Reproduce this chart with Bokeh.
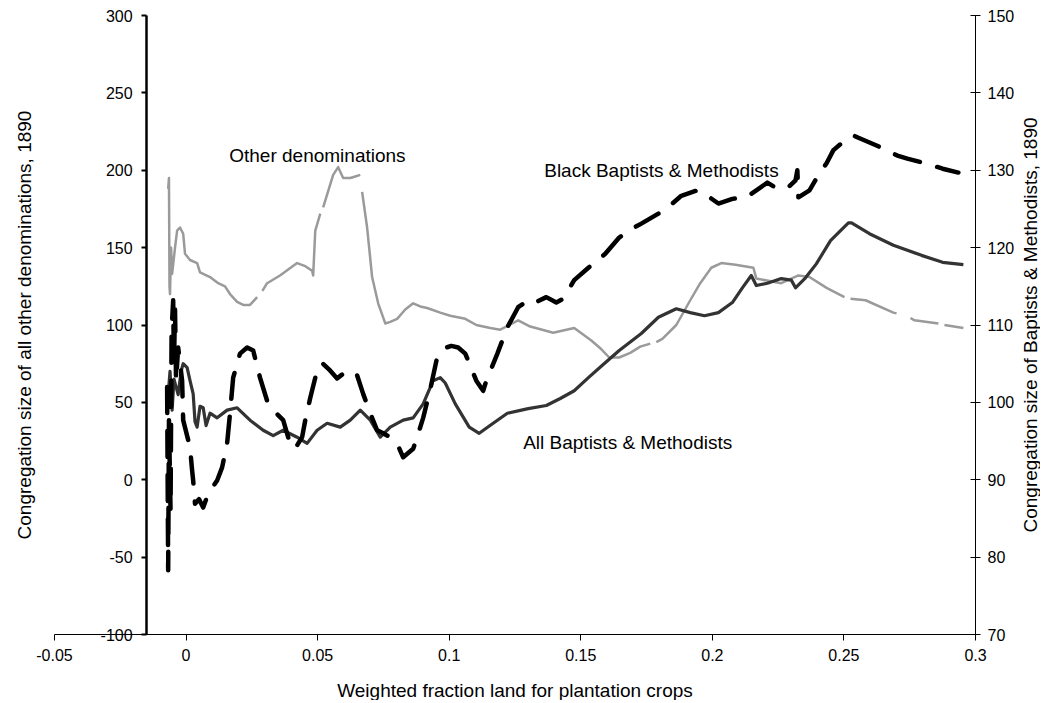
import math
import numpy as np
from bokeh.plotting import figure
from bokeh.models import Range1d, LinearAxis, FixedTicker, Label
from bokeh.embed import file_html
from bokeh.resources import INLINE

FONT = "Liberation Sans"
NaN = float("nan")

# ---------------- data ----------------
x_ticks = [-0.05, 0, 0.05, 0.1, 0.15, 0.2, 0.25, 0.3]
x_tick_labels = ["-0.05", "0", "0.05", "0.1", "0.15", "0.2", "0.25", "0.3"]
left_ticks = [-100, -50, 0, 50, 100, 150, 200, 250, 300]
left_tick_labels = ["-100", "-50", "0", "50", "100", "150", "200", "250", "300"]
right_ticks = [70, 80, 90, 100, 110, 120, 130, 140, 150]
right_tick_labels = ["70", "80", "90", "100", "110", "120", "130", "140", "150"]

# Other denominations (left axis); NaN = gap in the line
other_x = [-0.0068, -0.0065, -0.0063, -0.0061, -0.0057, -0.0053, -0.0042, -0.0034, -0.0023, -0.0011,
           -0.0004, 0.0015, 0.0042, 0.0053, 0.0091, 0.0122, 0.0148, 0.0167, 0.0194, 0.0217,
           0.0243, 0.0270, NaN, 0.0290, 0.0308, 0.0357, 0.0422, 0.0453, 0.0479, 0.0483,
           0.0491, 0.0510, NaN, 0.0521, 0.0559, 0.0578, 0.0597, 0.0624, 0.0643, 0.0662,
           NaN, 0.0669, 0.0688, 0.0707, 0.0730, 0.0757, 0.0776, 0.0802, 0.0833, 0.0863,
           0.0890, 0.0916, 0.0966, 0.1004, 0.1061, 0.1103, 0.1156, 0.1194, 0.1262, 0.1308,
           0.1395, 0.1475, 0.1540, 0.1574, 0.1608, 0.1646, 0.1688, 0.1726, 0.1764, NaN,
           0.1787, 0.1810, 0.1863, 0.1916, 0.1954, 0.1996, 0.2034, 0.2088, 0.2156, 0.2167,
           0.2262, 0.2327, 0.2369, 0.2434, 0.2502, NaN, 0.2525, 0.2582, 0.2688, 0.2700,
           NaN, 0.2753, 0.2768, 0.2859, NaN, 0.2882, 0.2954]
other_y = [188, 195, 125, 120, 150, 133, 150, 161, 163, 159,
           146, 142, 140, 134, 131, 127, 125, 120, 115, 113,
           113, 118, NaN, 122, 127, 132, 140, 138, 135, 132,
           161, 172, NaN, 176, 197, 202, 195, 195, 196, 197,
           NaN, 186, 163, 131, 114, 101, 102, 104, 110, 114,
           112, 111, 108, 106, 104, 100, 98, 97, 103, 99,
           95, 98, 90, 85, 79, 79, 82, 86, 88, NaN,
           89, 91, 100, 116, 127, 137, 140, 139, 137, 130,
           127, 132, 131, 124, 118, NaN, 117, 116, 108, 107.5,
           NaN, 104.5, 103, 101, NaN, 100, 98]

# Black Baptists & Methodists (right axis)
black_x = [-0.0072, -0.0068, -0.0065, -0.0059, -0.0055, -0.0049, -0.0046, -0.0042, -0.0038, -0.0030,
           -0.0015, -0.0011, 0.0015, 0.0023, 0.0027, 0.0034, 0.0049, 0.0065, 0.0084, 0.0118,
           0.0137, 0.0156, 0.0167, 0.0179, 0.0205, 0.0232, 0.0255, 0.0281, 0.0308, 0.0331,
           0.0369, 0.0395, 0.0414, 0.0441, 0.0453, 0.0472, 0.0491, 0.0517, 0.0548, 0.0574,
           0.0597, 0.0631, 0.0650, 0.0673, 0.0700, 0.0726, 0.0749, 0.0776, 0.0802, 0.0825,
           0.0863, 0.0878, 0.0901, 0.0928, 0.0954, 0.0981, 0.1008, 0.1034, 0.1061, 0.1103,
           0.1129, 0.1141, 0.1183, 0.1221, 0.1262, 0.1300, 0.1327, 0.1369, 0.1407, 0.1434,
           0.1475, 0.1529, 0.1593, 0.1646, 0.1703, 0.1730, 0.1795, 0.1848, 0.1882, 0.1943,
           0.1981, 0.2023, 0.2076, 0.2129, 0.2167, 0.2209, 0.2247, 0.2289, 0.2316, 0.2323,
           0.2327, 0.2369, 0.2407, 0.2434, 0.2460, 0.2502, 0.2536, 0.2555, 0.2624, 0.2703,
           0.2741, 0.2810, 0.2875, 0.2935]
black_y = [102.0, 78.3, 97.7, 86.0, 109.3, 113.2, 105.0, 112.0, 102.8, 107.1,
           102.8, 97.7, 94.2, 91.2, 89.9, 86.9, 87.5, 86.4, 88.2, 89.9,
           91.6, 94.7, 98.6, 103.2, 106.3, 107.1, 106.7, 103.2, 100.2, 99.0,
           97.7, 94.7, 94.0, 95.5, 97.7, 100.6, 103.2, 105.1, 104.1, 103.1,
           103.7, 104.1, 103.5, 101.1, 98.6, 96.4, 96.0, 95.5, 94.7, 92.9,
           94.0, 95.5, 98.0, 101.7, 105.8, 107.0, 107.3, 107.1, 106.3, 102.8,
           101.5, 102.8, 106.3, 109.7, 112.3, 113.2, 112.9, 113.6, 112.9, 113.4,
           115.8, 117.4, 119.2, 121.3, 122.6, 123.1, 124.4, 125.7, 126.7, 127.4,
           126.7, 125.7, 126.3, 126.5, 127.4, 128.4, 127.6, 127.8, 128.7, 130.0,
           126.5, 127.4, 129.6, 130.9, 132.6, 133.8, 134.5, 134.2, 133.2, 131.9,
           131.5, 130.9, 130.2, 129.7]

# All Baptists & Methodists (right axis)
all_x = [-0.0068, -0.0061, -0.0053, -0.0046, -0.0030, -0.0019, -0.0011, 0.0004, 0.0015, 0.0027,
         0.0034, 0.0042, 0.0053, 0.0065, 0.0076, 0.0091, 0.0118, 0.0156, 0.0194, 0.0243,
         0.0293, 0.0331, 0.0369, 0.0422, 0.0460, 0.0498, 0.0536, 0.0586, 0.0624, 0.0662,
         0.0700, 0.0738, 0.0776, 0.0825, 0.0863, 0.0901, 0.0939, 0.0966, 0.0985, 0.1023,
         0.1076, 0.1114, 0.1167, 0.1221, 0.1300, 0.1369, 0.1422, 0.1475, 0.1529, 0.1582,
         0.1646, 0.1730, 0.1795, 0.1863, 0.1916, 0.1970, 0.2023, 0.2076, 0.2114, 0.2148,
         0.2167, 0.2209, 0.2262, 0.2300, 0.2316, 0.2354, 0.2395, 0.2449, 0.2517, 0.2529,
         0.2597, 0.2688, 0.2795, 0.2875, 0.2954]
all_y = [101.0, 104.0, 99.0, 103.0, 101.0, 104.0, 105.0, 104.5, 102.8, 101.1,
         97.5, 96.8, 99.5, 99.3, 97.0, 98.6, 98.0, 99.0, 99.3, 97.7,
         96.4, 95.7, 96.4, 95.5, 94.7, 96.4, 97.3, 96.8, 97.7, 99.0,
         97.7, 95.5, 96.8, 97.7, 98.0, 99.8, 102.8, 103.2, 102.5, 99.8,
         96.8, 96.0, 97.3, 98.6, 99.2, 99.6, 100.5, 101.5, 103.2, 104.8,
         106.7, 108.9, 111.0, 112.1, 111.6, 111.2, 111.6, 112.9, 114.8, 116.4,
         115.1, 115.4, 116.0, 115.8, 114.8, 116.1, 117.9, 120.9, 123.2, 123.2,
         121.8, 120.3, 119.0, 118.1, 117.8]

labels_text = ["Other denominations", "Black Baptists & Methodists", "All Baptists & Methodists"]
labels_x = [0.0164, 0.1361, 0.1281]
labels_y = [209.5, 199.8, 24.1]

left_title = "Congregation size of all other denominations, 1890"
right_title = "Congregation size of Baptists & Methodists, 1890"
x_title = "Weighted fraction land for plantation crops"

x_lo, x_hi = -0.05, 0.3
yl_lo, yl_hi = -100, 300
yr_lo, yr_hi = 70, 150
left_axis_cross = -0.015

# ---------------- layout (pixels) ----------------
W, H = 1040, 700
PL, PR, PT, PB = 54, 975, 15, 634          # plot area edges on the canvas

sx = (PR - PL) / (x_hi - x_lo)
syl = (PB - PT) / (yl_hi - yl_lo)
syr = (PB - PT) / (yr_hi - yr_lo)

p = figure(width=W, height=H,
           x_range=Range1d(x_lo - PL / sx, x_hi + (W - PR) / sx),
           y_range=Range1d(yl_lo - (H - PB) / syl, yl_hi + PT / syl),
           x_axis_location=None, y_axis_location=None,
           output_backend="svg", toolbar_location=None, min_border=0)
p.extra_y_ranges = {"right": Range1d(yr_lo - (H - PB) / syr, yr_hi + PT / syr)}
p.xgrid.visible = False
p.ygrid.visible = False
p.outline_line_color = None
p.background_fill_color = "white"
p.border_fill_color = "white"


def style_labels(ax, size="16px"):
    ax.minor_tick_line_color = None
    ax.major_label_text_font = FONT
    ax.major_label_text_font_size = size
    ax.major_label_text_color = "black"


# x axis along y = -100
xa = LinearAxis(fixed_location=yl_lo, bounds=(x_lo, x_hi), ticker=FixedTicker(ticks=x_ticks))
xa.major_label_overrides = {t: s for t, s in zip(x_ticks, x_tick_labels)}
xa.axis_line_color = "black"
xa.axis_line_width = 1
xa.major_tick_line_color = "black"
xa.major_tick_out = 6
xa.major_tick_in = 0
xa.major_label_standoff = 8
style_labels(xa)
p.add_layout(xa, "below")

# left axis crossing the x axis inside the plot
la = LinearAxis(fixed_location=left_axis_cross, bounds=(yl_lo, yl_hi),
                ticker=FixedTicker(ticks=left_ticks))
la.major_label_overrides = {t: s for t, s in zip(left_ticks, left_tick_labels)}
la.axis_line_color = "black"
la.axis_line_width = 2.5
la.major_tick_line_color = "black"
la.major_tick_line_width = 2
la.major_tick_out = 5
la.major_tick_in = 0
la.major_label_standoff = 9
style_labels(la)
p.add_layout(la, "left")

# right axis at x = 0.3
ra = LinearAxis(y_range_name="right", fixed_location=x_hi, bounds=(yr_lo, yr_hi),
                ticker=FixedTicker(ticks=right_ticks))
ra.major_label_overrides = {t: s for t, s in zip(right_ticks, right_tick_labels)}
ra.axis_line_color = "black"
ra.axis_line_width = 1
ra.major_tick_line_color = "black"
ra.major_tick_out = 5
ra.major_tick_in = 5
ra.major_label_standoff = 7
style_labels(ra)
p.add_layout(ra, "right")

# axis titles
y_mid = (yl_lo + yl_hi) / 2
p.add_layout(Label(x=(x_lo + x_hi) / 2, y=yl_lo, y_offset=-56, text=x_title,
                   text_font=FONT, text_font_size="19px", text_color="black",
                   text_align="center", text_baseline="middle"))
p.add_layout(Label(x=x_lo, y=y_mid, x_offset=-30, text=left_title, angle=math.pi / 2,
                   text_font=FONT, text_font_size="19px", text_color="black",
                   text_align="center", text_baseline="middle"))
p.add_layout(Label(x=x_hi, y=y_mid, x_offset=55, text=right_title, angle=math.pi / 2,
                   text_font=FONT, text_font_size="19px", text_color="black",
                   text_align="center", text_baseline="middle"))

# series
p.line(np.array(other_x, dtype=float), np.array(other_y, dtype=float),
       line_color="#9a9a9a", line_width=2.5, line_join="round")
p.line(np.array(all_x, dtype=float), np.array(all_y, dtype=float), y_range_name="right",
       line_color="#333333", line_width=3.2, line_join="round")
p.line(np.array(black_x, dtype=float), np.array(black_y, dtype=float), y_range_name="right",
       line_color="black", line_width=4.5, line_join="round", line_cap="round",
       line_dash="26 18")

for t, lx, ly in zip(labels_text, labels_x, labels_y):
    p.add_layout(Label(x=lx, y=ly, text=t, text_font=FONT, text_font_size="19px",
                       text_color="black", text_align="left", text_baseline="alphabetic"))

open("out.html", "w").write(file_html(p, INLINE))
